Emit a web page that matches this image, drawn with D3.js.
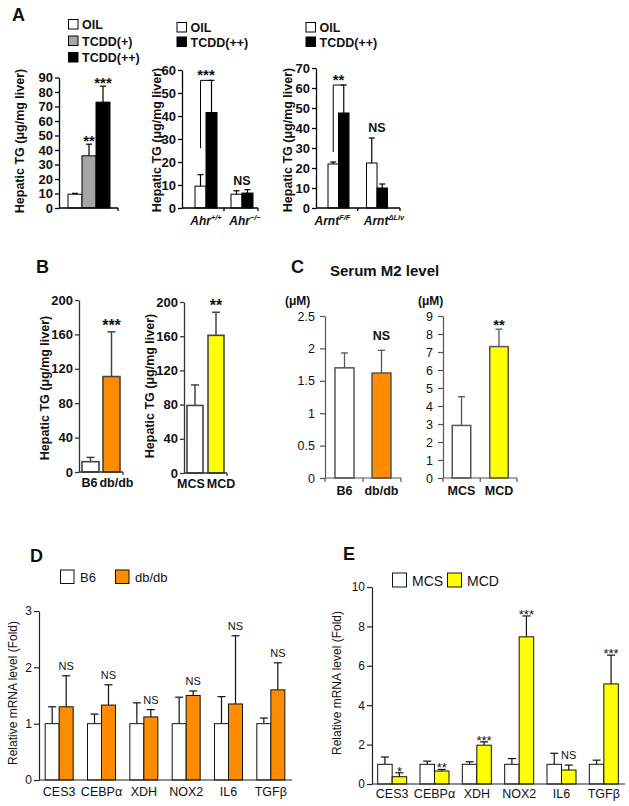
<!DOCTYPE html>
<html><head><meta charset="utf-8">
<script src="https://cdn.jsdelivr.net/npm/d3@7"></script>
<style>
body{margin:0;background:#fff}
svg{display:block}
text{font-family:"Liberation Sans",Arial,Helvetica,sans-serif;fill:#111}
</style>
</head><body>
<svg id="c" width="629" height="806"></svg>
<script>
// ---------------- DATA ----------------
// Panel A1
const a1Groups = ["OIL", "TCDD(+)", "TCDD(++)"];
const a1Values = [9.5, 36, 73];
const a1Errors = [0.6, 8, 11];
const a1Sig = ["", "**", "***"];
const a1Ticks = [0, 10, 20, 30, 40, 50, 60, 70, 80, 90];
// Panel A2
const a2Names = ["Ahr", "Ahr"];
const a2Sup = ["+/+", "\u2212/\u2212"];
const a2Oil = [9.5, 6];
const a2OilErr = [5, 1.5];
const a2Tcdd = [41.5, 6.5];
const a2TcddErr = [14, 1.5];
const a2Sig = ["***", "NS"];
const a2BracketFrom = [26, null];
const a2Ticks = [0, 10, 20, 30, 40, 50, 60];
// Panel A3
const a3Names = ["Arnt", "Arnt"];
const a3Sup = ["F/F", "\u0394Liv"];
const a3Oil = [22, 22.5];
const a3OilErr = [1, 12.5];
const a3Tcdd = [47.5, 10];
const a3TcddErr = [14, 2];
const a3Sig = ["**", "NS"];
const a3BracketFrom = [28, null];
const a3Ticks = [0, 10, 20, 30, 40, 50, 60, 70];
const aLegend2 = ["OIL", "TCDD(++)"];
// Panel B
const b1Categories = ["B6", "db/db"];
const b1Values = [12, 111];
const b1Errors = [5, 52];
const b1Sig = ["", "***"];
const b2Categories = ["MCS", "MCD"];
const b2Values = [79, 161];
const b2Errors = [24, 27];
const b2Sig = ["", "**"];
const bTicks = [0, 40, 80, 120, 160, 200];
// Panel C
const c1Categories = ["B6", "db/db"];
const c1Values = [1.7, 1.62];
const c1Errors = [0.23, 0.35];
const c1Sig = ["", "NS"];
const c1Ticks = [0, 0.5, 1, 1.5, 2, 2.5];
const c2Categories = ["MCS", "MCD"];
const c2Values = [2.92, 7.3];
const c2Errors = [1.6, 0.97];
const c2Sig = ["", "**"];
const c2Ticks = [0, 1, 2, 3, 4, 5, 6, 7, 8, 9];
// Panel D
const genes = ["CES3", "CEBP\u03b1", "XDH", "NOX2", "IL6", "TGF\u03b2"];
const dB6 = [1, 1, 1, 1, 1, 1];
const dB6Err = [0.30, 0.17, 0.37, 0.47, 0.48, 0.10];
const dDbdb = [1.30, 1.33, 1.12, 1.50, 1.35, 1.60];
const dDbdbErr = [0.55, 0.36, 0.13, 0.08, 1.21, 0.48];
const dSig = ["NS", "NS", "NS", "NS", "NS", "NS"];
const dTicks = [0, 1, 2, 3];
const dLegend = ["B6", "db/db"];
// Panel E
const eMCS = [1, 1, 1, 1, 1, 1];
const eMCSErr = [0.37, 0.16, 0.13, 0.29, 0.56, 0.21];
const eMCD = [0.37, 0.66, 1.97, 7.47, 0.71, 5.08];
const eMCDErr = [0.2, 0.08, 0.17, 1.06, 0.25, 1.46];
const eSig = ["*", "**", "***", "***", "NS", "***"];
const eTicks = [0, 2, 4, 6, 8, 10];
const eLegend = ["MCS", "MCD"];

// ---------------- STYLE ----------------
const WHITE = "#ffffff", GRAY = "#a6a6a6", BLACK = "#000000";
const ORANGE = "#ff8c00", YELLOW = "#ffff00";
const svg = d3.select("#c");
svg.append("rect").attr("width", 629).attr("height", 806).attr("fill", "#fff");

function txt(x, y, s, size, opts = {}) {
  const t = svg.append("text").attr("x", x).attr("y", y)
    .attr("font-size", size)
    .attr("font-weight", opts.bold ? "bold" : "normal")
    .attr("text-anchor", opts.anchor || "start")
    .text(s);
  if (opts.italic) t.attr("font-style", "italic");
  if (opts.fill) t.style("fill", opts.fill);
  return t;
}
function vtitle(x, cy, s, size, bold) {
  svg.append("text")
    .attr("transform", `translate(${x},${cy}) rotate(-90)`)
    .attr("text-anchor", "middle").attr("dy", "0.35em")
    .attr("font-size", size).attr("font-weight", bold ? "bold" : "normal")
    .text(s);
}
function yAxis(y, x, ticks, o) {
  const g = svg.append("g").attr("transform", `translate(${x},0)`)
    .call(d3.axisLeft(y).tickValues(ticks).tickSize(o.size).tickPadding(o.pad)
      .tickSizeOuter(0).tickFormat(d3.format("")));
  g.selectAll("path,line").attr("stroke", o.color).attr("stroke-width", o.sw);
  g.selectAll("text").attr("font-size", o.font)
    .attr("font-weight", o.bold ? "bold" : "normal")
    .style("font-family", '"Liberation Sans",Arial,sans-serif').style("fill", "#111");
  return g;
}
function xLine(x0, x1, y0, ticksAt, o) {
  svg.append("line").attr("x1", x0).attr("x2", x1).attr("y1", y0).attr("y2", y0)
    .attr("stroke", o.color).attr("stroke-width", o.sw);
  (ticksAt || []).forEach(t => svg.append("line").attr("x1", t).attr("x2", t)
    .attr("y1", y0).attr("y2", y0 + (o.tick || 3)).attr("stroke", o.color).attr("stroke-width", o.sw));
}
// draw one bar with error bar
function bar(x, w, y, v, e, fill, o) {
  const top = y(v), eTop = y(v + e), cx = x + w / 2;
  svg.append("line").attr("x1", cx).attr("x2", cx).attr("y1", top).attr("y2", eTop)
    .attr("stroke", o.color).attr("stroke-width", o.ew || o.sw);
  svg.append("line").attr("x1", cx - o.cap / 2).attr("x2", cx + o.cap / 2)
    .attr("y1", eTop).attr("y2", eTop).attr("stroke", o.color).attr("stroke-width", o.ew || o.sw);
  svg.append("rect").attr("x", x).attr("y", top).attr("width", w)
    .attr("height", y(0) - top).attr("fill", fill)
    .attr("stroke", o.color).attr("stroke-width", o.sw);
  return eTop;
}
function legendBox(x, y, w, h, fill, o) {
  svg.append("rect").attr("x", x).attr("y", y).attr("width", w).attr("height", h)
    .attr("fill", fill).attr("stroke", o.color).attr("stroke-width", o.sw);
}

// ---------------- PANEL A ----------------
txt(12, 21, "A", 18, { bold: true });
const aStyle = { color: "#000", sw: 1, cap: 6, ew: 1.2 };
const aAxis = { size: 4, pad: 2, font: 13, bold: true, color: "#000", sw: 1.3 };
// A1
{
  const y = d3.scaleLinear().domain([0, 90]).range([208, 77.5]);
  const x = d3.scaleBand().domain(a1Groups).range([68, 110]);
  const fills = [WHITE, GRAY, BLACK];
  a1Groups.forEach((g, i) => {
    const et = bar(x(g), x.bandwidth(), y, a1Values[i], a1Errors[i], fills[i], aStyle);
    if (a1Sig[i]) txt(x(g) + x.bandwidth() / 2, et + 1.5, a1Sig[i], 15, { bold: true, anchor: "middle" });
  });
  yAxis(y, 59, a1Ticks, aAxis);
  xLine(59, 118, 208, [118], { color: "#000", sw: 1.3 });
  vtitle(20, 141, "Hepatic TG (\u03bcg/mg liver)", 12.5, true);
  const ly = [19.5, 36, 52.5];
  a1Groups.forEach((g, i) => {
    legendBox(68.5, ly[i], 9.5, 9.5, fills[i], { color: "#000", sw: 1 });
    txt(82, ly[i] + 9.5, g, 12.5, { bold: true });
  });
}
// A2 and A3
function aPanel(ax, axEnd, yMax, yTopPx, ticks, centers, bw, names, sups, oil, oilE, tc, tcE, sig, bfrom, titleX, legX, sigOff, labDx) {
  const y = d3.scaleLinear().domain([0, yMax]).range([208, yTopPx]);
  const x = d3.scalePoint().domain(names.map((n, i) => i)).range(centers);
  names.forEach((n, i) => {
    const c = x(i);
    const e1 = bar(c - bw, bw, y, oil[i], oilE[i], WHITE, aStyle);
    const e2 = bar(c, bw, y, tc[i], tcE[i], BLACK, aStyle);
    const top = Math.min(e1, e2);
    if (bfrom[i] != null) {
      const lx = c - bw / 2, rx = c + bw / 2;
      svg.append("path").attr("d", `M${lx},${y(bfrom[i])}V${e2}H${rx}`)
        .attr("fill", "none").attr("stroke", "#000").attr("stroke-width", 1);
      txt(c, e2 - 0.5, sig[i], 15, { bold: true, anchor: "middle" });
    } else if (sig[i]) {
      txt(c, top - sigOff, sig[i], 12.5, { bold: true, anchor: "middle" });
    }
    const t = svg.append("text").attr("x", c + labDx[i]).attr("y", 225).attr("text-anchor", "middle")
      .attr("font-size", 12).attr("font-weight", "bold").attr("font-style", "italic");
    t.append("tspan").text(n);
    t.append("tspan").attr("font-size", 7.5).attr("dy", -5).text(sups[i]);
  });
  yAxis(y, ax, ticks, aAxis);
  xLine(ax, axEnd, 208, [(x(0) + x(1)) / 2, axEnd], { color: "#000", sw: 1.3 });
  vtitle(titleX, 140, "Hepatic TG (\u03bcg/mg liver)", 12.5, true);
  const fills = [WHITE, BLACK];
  const ly = [22.5, 37];
  aLegend2.forEach((g, i) => {
    legendBox(legX, ly[i], 9.5, 9.5, fills[i], { color: "#000", sw: 1 });
    txt(legX + 13.5, ly[i] + 9.5, g, 12.5, { bold: true });
  });
}
aPanel(182, 258, 60, 70, a2Ticks, [206, 242], 11, a2Names, a2Sup, a2Oil, a2OilErr, a2Tcdd, a2TcddErr, a2Sig, a2BracketFrom, 157, 177, 5, [0, 3]);
aPanel(316, 400, 70, 68, a3Ticks, [338.5, 377], 10.5, a3Names, a3Sup, a3Oil, a3OilErr, a3Tcdd, a3TcddErr, a3Sig, a3BracketFrom, 288, 306, 6, [-6, 7]);

// ---------------- PANEL B ----------------
txt(36, 273, "B", 18, { bold: true });
const bStyle = { color: "#444", sw: 1.6, cap: 8, ew: 1.5 };
const bAxis = { size: 4, pad: 2, font: 13, bold: true, color: "#333", sw: 1.3 };
function bPanel(ax, axEnd, y0, yTop, centers, bw, cats, vals, errs, sig, fills, titleX, titleY, labelDx) {
  const y = d3.scaleLinear().domain([0, 200]).range([y0, yTop]);
  const x = d3.scalePoint().domain(cats).range(centers);
  cats.forEach((c, i) => {
    const et = bar(x(c) - bw / 2, bw, y, vals[i], errs[i], fills[i], bStyle);
    if (sig[i]) txt(x(c), et - 1, sig[i], 16, { bold: true, anchor: "middle" });
    txt(x(c) + labelDx[i], y0 + 15, c, 12.5, { bold: true, anchor: "middle" });
  });
  yAxis(y, ax, bTicks, bAxis);
  xLine(ax, axEnd, y0, [axEnd], { color: "#333", sw: 1.3 });
  vtitle(titleX, titleY, "Hepatic TG (\u03bcg/mg liver)", 12.5, true);
}
bPanel(79, 123, 472, 300, [90.5, 111.5], 17, b1Categories, b1Values, b1Errors, b1Sig, [WHITE, ORANGE], 45, 388, [-1, 5]);
bPanel(184, 227, 473, 302, [195, 216], 16, b2Categories, b2Values, b2Errors, b2Sig, [WHITE, YELLOW], 150, 386, [-4, 5]);

// ---------------- PANEL C ----------------
txt(291, 273, "C", 18, { bold: true });
txt(330, 276, "Serum M2 level", 15, { bold: true });
const cStyle = { color: "#555", sw: 1.5, cap: 7, ew: 1.3 };
const cAxis = { size: 5, pad: 5, font: 12.5, bold: false, color: "#555", sw: 1.2 };
function cPanel(ax, axEnd, yMax, ticks, centers, bw, cats, vals, errs, sig, fills, unitX) {
  const y = d3.scaleLinear().domain([0, yMax]).range([478, 316]);
  const x = d3.scalePoint().domain(cats).range(centers);
  cats.forEach((c, i) => {
    const et = bar(x(c) - bw / 2, bw, y, vals[i], errs[i], fills[i], cStyle);
    if (sig[i] === "NS") txt(x(c), et - 10, sig[i], 12.5, { bold: true, anchor: "middle" });
    else if (sig[i]) txt(x(c), et + 1, sig[i], 15, { bold: true, anchor: "middle" });
    txt(x(c), 495, c, 12.5, { bold: true, anchor: "middle" });
  });
  yAxis(y, ax, ticks, cAxis);
  xLine(ax, axEnd, 478, [ax, (x(cats[0]) + x(cats[1])) / 2, axEnd], { color: "#555", sw: 1.2, tick: 4 });
  txt(unitX, 305, "(\u03bcM)", 12, { bold: true });
}
cPanel(325, 401, 2.5, c1Ticks, [344.5, 381.5], 19, c1Categories, c1Values, c1Errors, c1Sig, [WHITE, ORANGE], 285);
cPanel(443, 517, 9, c2Ticks, [461.5, 499], 18.5, c2Categories, c2Values, c2Errors, c2Sig, [WHITE, YELLOW], 418);

// ---------------- PANEL D & E ----------------
const geneStyle = { color: "#111", sw: 1, cap: 8, ew: 1.2 };
function genePanel(ax, axEnd, y0, yTop, yMax, ticks, bw, s1, e1, s2, e2, fill2, sig, xLabY) {
  const y = d3.scaleLinear().domain([0, yMax]).range([y0, yTop]);
  const x = d3.scaleBand().domain(genes).range([ax - 1, axEnd]);
  genes.forEach((g, i) => {
    const c = x(g) + x.bandwidth() / 2;
    bar(c - bw, bw, y, s1[i], e1[i], WHITE, geneStyle);
    const et = bar(c, bw, y, s2[i], e2[i], fill2, geneStyle);
    if (sig[i]) {
      const isNS = sig[i] === "NS";
      txt(c + bw / 2, isNS ? et - 6 : et + 3, sig[i], isNS ? 11 : 13, { anchor: "middle" });
    }
    txt(c, xLabY, g, 12.5, { anchor: "middle" });
  });
  yAxis(y, ax, ticks, { size: 5, pad: 2, font: 12, bold: false, color: "#222", sw: 1.2 });
  xLine(ax, axEnd, y0, [], { color: "#222", sw: 1.2 });
}
// D
txt(30, 562, "D", 18, { bold: true });
legendBox(60.5, 570, 13.5, 13.5, WHITE, { color: "#111", sw: 1 });
txt(80, 582, dLegend[0], 13);
legendBox(115.5, 570, 13.5, 13.5, ORANGE, { color: "#111", sw: 1 });
txt(135, 582, dLegend[1], 13);
genePanel(39, 292, 780, 611, 3, dTicks, 14, dB6, dB6Err, dDbdb, dDbdbErr, ORANGE, dSig, 796);
vtitle(13, 693, "Relative mRNA level (Fold)", 12, false);
// E
txt(343, 560, "E", 18, { bold: true });
legendBox(392.5, 573, 14, 14, WHITE, { color: "#111", sw: 1 });
txt(412, 586, eLegend[0], 14);
legendBox(447.5, 573, 14, 14, YELLOW, { color: "#111", sw: 1 });
txt(467, 586, eLegend[1], 14);
genePanel(372, 625, 784, 587, 10, eTicks, 14.5, eMCS, eMCSErr, eMCD, eMCDErr, YELLOW, eSig, 798);
vtitle(337, 683, "Relative mRNA level (Fold)", 12, false);
</script>
</body></html>
